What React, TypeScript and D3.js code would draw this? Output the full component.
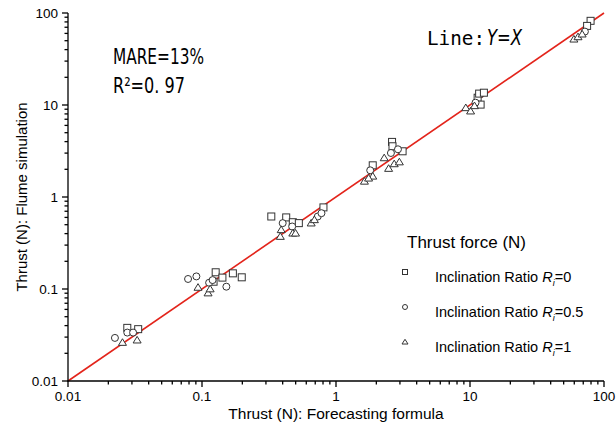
import React from "react";
import * as d3 from "d3";

const legendValues = ["0", "0.5", "1"];

// [forecast, simulation]
const squaresX = [0.0277, 0.0334, 0.122, 0.1265, 0.142, 0.17, 0.198, 0.329, 0.425, 0.476, 0.528, 0.806, 1.88, 2.62, 2.64, 3.14, 11.4, 11.7, 12.7, 12.0, 79.4, 74.8];
const squaresY = [0.0378, 0.0366, 0.12, 0.152, 0.133, 0.148, 0.134, 0.614, 0.6, 0.532, 0.52, 0.771, 2.21, 3.97, 3.56, 3.14, 12.0, 13.3, 13.6, 10.1, 82.2, 72.4];

const circlesX = [0.0224, 0.0277, 0.0306, 0.0787, 0.0908, 0.113, 0.152, 0.12, 0.4, 0.471, 0.731, 0.779, 1.8, 2.57, 2.9, 11.0, 72];
const circlesY = [0.0294, 0.0336, 0.0336, 0.1285, 0.137, 0.117, 0.106, 0.125, 0.52, 0.478, 0.614, 0.667, 1.95, 3.01, 3.3, 10.6, 62.8];

const trianglesX = [0.0255, 0.0328, 0.0934, 0.111, 0.115, 0.39, 0.384, 0.476, 0.499, 0.653, 0.69, 1.63, 1.88, 1.75, 2.29, 2.47, 2.72, 2.97, 9.3, 10.1, 10.8, 59.6, 64, 68.7];
const trianglesY = [0.0262, 0.0278, 0.104, 0.0904, 0.1, 0.44, 0.372, 0.404, 0.404, 0.52, 0.565, 1.48, 1.68, 1.6, 2.66, 2.04, 2.29, 2.4, 9.32, 8.58, 9.8, 51.9, 55, 58.9];

const majorTicks = [0.01, 0.1, 1, 10, 100];
const tickLabels = ["0.01", "0.1", "1", "10", "100"];

const W = 616;
const H = 430;

function Marker({ kind, cx, cy, s }: { kind: number; cx: number; cy: number; s: number }) {
  const st = { fill: "#fff", stroke: "#333", strokeWidth: 1 };
  if (kind === 0) return <rect x={cx - s / 2} y={cy - s / 2} width={s} height={s} {...st} />;
  if (kind === 1) return <circle cx={cx} cy={cy} r={s / 2} {...st} />;
  const h = s * 0.9;
  return (
    <path
      d={`M${cx},${cy - h * 0.6}L${cx + s / 2 + 0.5},${cy + h * 0.45}L${cx - s / 2 - 0.5},${cy + h * 0.45}Z`}
      {...st}
    />
  );
}

export default function App() {
  const x = d3.scaleLog().domain([0.01, 100]).range([68, 604]);
  const y = d3.scaleLog().domain([0.01, 100]).range([381, 13]);
  const minor: number[] = [];
  for (let k = -2; k < 2; k++) for (let m = 2; m <= 9; m++) minor.push(m * Math.pow(10, k));

  const series = [
    { xs: squaresX, ys: squaresY },
    { xs: circlesX, ys: circlesY },
    { xs: trianglesX, ys: trianglesY },
  ];
  const font = "'Liberation Sans', Arial, sans-serif";
  const x0 = x(0.01);
  const y0 = y(0.01);

  return (
    <svg width={W} height={H} style={{ position: "absolute", left: 0, top: 0, background: "#fff" }}>
      <rect width={W} height={H} fill="#fff" />
      {/* reference line */}
      <line x1={x(0.01)} y1={y(0.01)} x2={x(100)} y2={y(100)} stroke="#e3241b" strokeWidth={1.6} />

      {/* axes */}
      <g stroke="#000" strokeWidth={1.3}>
        <line x1={x0} y1={y(100)} x2={x0} y2={y0 + 0.5} />
        <line x1={x0 - 0.5} y1={y0} x2={x(100)} y2={y0} />
        {majorTicks.map((t) => (
          <g key={"M" + t}>
            <line x1={x(t)} y1={y0} x2={x(t)} y2={y0 + 6} />
            <line x1={x0} y1={y(t)} x2={x0 - 6} y2={y(t)} />
          </g>
        ))}
        {minor.map((t) => (
          <g key={"m" + t}>
            <line x1={x(t)} y1={y0} x2={x(t)} y2={y0 + 3.5} />
            <line x1={x0} y1={y(t)} x2={x0 - 3.5} y2={y(t)} />
          </g>
        ))}
      </g>
      <g fontFamily={font} fontSize={13.5} fill="#000">
        {majorTicks.map((t, i) => (
          <text key={"xl" + t} x={x(t)} y={y0 + 20} textAnchor="middle">
            {tickLabels[i]}
          </text>
        ))}
        {majorTicks.map((t, i) => (
          <text key={"yl" + t} x={x0 - 10} y={y(t) + 4.5} textAnchor="end">
            {tickLabels[i]}
          </text>
        ))}
      </g>
      <text x={(x(0.01) + x(100)) / 2} y={419} textAnchor="middle" fontFamily={font} fontSize={15.5}>
        Thrust (N): Forecasting formula
      </text>
      <text
        transform={`translate(27,${(y(0.01) + y(100)) / 2}) rotate(-90)`}
        textAnchor="middle"
        fontFamily={font}
        fontSize={15}
      >
        Thrust (N): Flume simulation
      </text>

      {/* data */}
      {series.map((s, k) =>
        s.xs.map((v, i) => <Marker key={k + "-" + i} kind={k} cx={x(v)} cy={y(s.ys[i])} s={7} />)
      )}

      {/* annotations */}
      <g fontFamily="'DejaVu Sans Condensed', 'Liberation Sans Narrow', sans-serif" fontSize={21}>
        <text x={113} y={64} textLength={91} lengthAdjust="spacingAndGlyphs">
          MARE=13%
        </text>
        <text x={113} y={93} textLength={72} lengthAdjust="spacingAndGlyphs">
          R²=0. 97
        </text>
      </g>
      <text x={427} y={45} fontFamily="'DejaVu Sans Mono', 'Liberation Mono', monospace" fontSize={19} textLength={58} lengthAdjust="spacingAndGlyphs">
        Line:
      </text>
      <text x={487} y={45} fontFamily="'DejaVu Sans Condensed', sans-serif" fontStyle="italic" fontSize={21} textLength={35} lengthAdjust="spacingAndGlyphs">
        Y=X
      </text>

      {/* legend */}
      <g fontFamily={font} fill="#000">
        <text x={407} y={248} fontSize={17}>
          Thrust force (N)
        </text>
        {legendValues.map((v, i) => (
          <g key={"lg" + i}>
            <Marker kind={i} cx={405} cy={272 + i * 35} s={5} />
            <text x={435} y={282 + i * 35} fontSize={14.5}>
              Inclination Ratio <tspan fontStyle="italic">R</tspan>
              <tspan fontStyle="italic" fontSize={9} dy={4}>i</tspan>
              <tspan dy={-4}>={v}</tspan>
            </text>
          </g>
        ))}
      </g>
    </svg>
  );
}
